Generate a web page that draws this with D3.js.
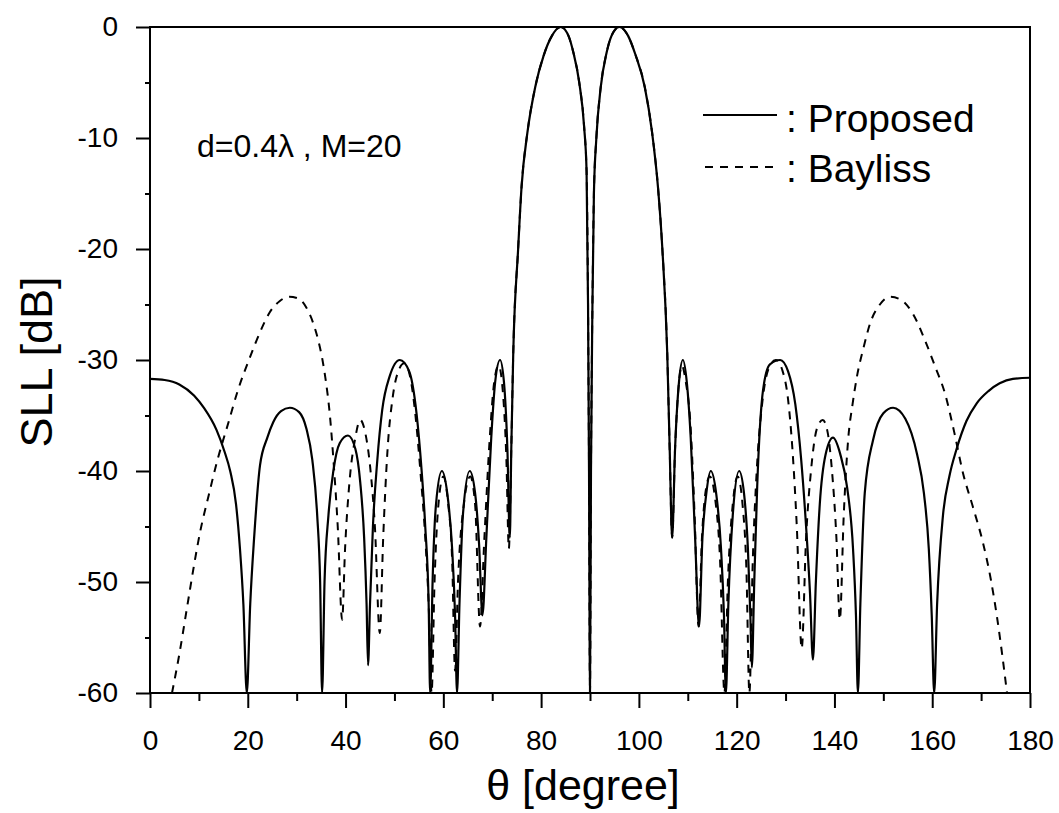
<!DOCTYPE html>
<html>
<head>
<meta charset="utf-8">
<script src="https://cdn.jsdelivr.net/npm/d3@7"></script>
<style>
  body { margin: 0; background: #fff; }
  text { font-family: "Liberation Sans", Arial, sans-serif; fill: #000; }
</style>
</head>
<body>
<div id="chart-area"></div>
<script>
// tick values
let xTicks = [0, 20, 40, 60, 80, 100, 120, 140, 160, 180];
let xMinor = [10, 30, 50, 70, 90, 110, 130, 150, 170];
let yTicks = [0, -10, -20, -30, -40, -50, -60];
let yMinor = [-5, -15, -25, -35, -45, -55];

// Proposed (solid) : [theta, SLL]
let proposed = [
  [0,-31.7],[3,-31.8],[6,-32.2],[9,-33.2],[11,-34.3],[13.6,-36.3],[15.2,-38.2],[16.4,-40],
  [17.6,-43],[18.4,-47],[19.1,-52],[19.8,-60],[20.5,-52],[21.3,-46],[22.5,-39.5],[24,-37],
  [25.2,-35.6],[26.8,-34.6],[28.6,-34.3],[30.5,-34.7],[32,-36.2],[33.2,-39],[34.2,-44],[34.8,-50],
  [35.2,-60],[35.7,-50],[36.5,-44],[37.5,-40],[38.8,-37.5],[40.5,-36.8],[42,-38],[43,-41],
  [43.8,-46],[44.3,-52],[44.6,-57.5],[45,-52],[45.6,-45],[46.5,-39],[47.5,-34.5],[49,-31.5],
  [51.1,-30],[53,-31],[54.3,-34],[55.3,-38.5],[56.3,-45],[57,-52],[57.3,-60],[57.8,-50],
  [58.5,-43],[59.7,-40],[60.8,-42],[61.8,-47],[62.4,-53],[62.8,-60],[63.3,-52],[64,-44],
  [65.4,-40],[66.5,-42],[67.3,-46.5],[68,-53],[68.8,-46],[69.8,-37],[70.6,-32],[71.6,-30],
  [72.4,-32],[73.1,-38],[73.6,-46],[73.9,-38],[74.3,-29.4],[75.3,-20],[76,-14.4],[77.2,-9.5],
  [78.8,-5.4],[80.5,-2.6],[82.2,-0.8],[84,0],[85.6,-0.8],[86.6,-2.3],[87.8,-5],[88.8,-9],
  [89.3,-13],[89.6,-25],[89.8,-40],[90,-60],[90.2,-40],[90.5,-25],[90.8,-15],[91.3,-10],
  [92.2,-5.4],[93.4,-2.3],[94.4,-0.8],[96,0],[97.8,-0.8],[99.3,-2.5],[101.2,-5.4],[102.7,-9.5],
  [103.9,-14.4],[104.8,-20],[105.8,-29.4],[106.3,-38],[106.8,-46],[107.4,-38],[108.2,-32],[109,-30],
  [109.8,-32],[110.6,-37],[111.5,-46],[112.3,-54],[113,-46],[113.8,-42],[114.7,-40],[115.8,-42],
  [116.8,-47],[117.4,-53],[117.8,-60],[118.3,-52],[119.2,-44],[120.5,-40],[121.5,-42],[122.3,-47],
  [122.8,-53],[123.1,-57.7],[123.6,-50],[124.2,-41.4],[125.4,-32.7],[126.8,-30.4],[128.9,-30],[130.5,-31],
  [132,-34],[133.2,-39],[134.2,-45],[135,-51],[135.6,-57],[136.2,-50],[137,-43],[138.2,-38.5],
  [139.7,-37],[141.2,-38.5],[142.6,-41.5],[143.8,-47],[144.4,-53],[144.8,-60],[145.3,-52],[146.2,-42],
  [147.9,-37.2],[150,-34.8],[152,-34.3],[154.5,-35.3],[156.9,-38.5],[158.3,-42],[159.3,-47],[159.9,-53],
  [160.4,-60],[161,-52],[162.2,-44],[163.5,-40.5],[165,-38],[167,-35.5],[169.1,-33.9],[171.5,-32.8],
  [173.8,-32.1],[176.5,-31.7],[180,-31.6]
];

// Bayliss (dashed) : [theta, SLL]
let bayliss = [
  [4.5,-60],[6,-56.5],[7.5,-52.5],[9,-48.5],[10.2,-45.6],[12,-42.2],[13.8,-39],[16,-35.7],
  [18,-32.7],[20.4,-29.8],[22.5,-27.5],[24.5,-25.7],[26.5,-24.7],[28.5,-24.3],[30.5,-24.5],[32,-25.3],
  [33.4,-26.7],[34.4,-28.2],[35.2,-29.8],[36,-32],[36.8,-35],[37.6,-39.5],[38.4,-45],[39.3,-53.4],
  [39.9,-47],[40.8,-41],[42,-37],[43,-35.4],[44,-36.5],[45,-39.5],[46,-45],[47,-54.6],
  [47.7,-46],[48.6,-38],[49.6,-33.5],[50.8,-31],[52,-30.3],[53.2,-31.5],[54.3,-35],[55.3,-40],
  [56.3,-46],[57,-52],[57.6,-60],[58.2,-50],[59,-43],[60,-40.5],[61,-43],[61.8,-48],
  [62.4,-58],[63,-50],[64.2,-43],[65.5,-40.5],[66.5,-43],[67.5,-54],[68.4,-46],[69.5,-37],
  [70.4,-32],[71.3,-30.5],[72.2,-33],[72.9,-39],[73.4,-47],[73.9,-38],[74.3,-29.4],[75.3,-20],
  [76,-14.4],[77.2,-9.5],[78.8,-5.4],[80.5,-2.6],[82.2,-0.8],[84,0],[85.6,-0.8],[86.6,-2.3],
  [87.8,-5],[88.8,-9],[89.3,-13],[89.6,-25],[89.8,-40],[90,-60],[90.2,-40],[90.5,-25],
  [90.8,-15],[91.3,-10],[92.2,-5.4],[93.4,-2.3],[94.4,-0.8],[96,0],[97.8,-0.8],[99.3,-2.5],
  [101.2,-5.4],[102.7,-9.5],[103.9,-14.4],[104.8,-20],[105.8,-29.4],[106.3,-38],[106.8,-46],[107.4,-38],
  [108.1,-32.5],[108.8,-30.5],[109.6,-32],[110.5,-35.5],[111.4,-44],[112.2,-54],[112.9,-46],[113.6,-42],
  [114.5,-40.5],[115.6,-42.5],[116.6,-48],[117.5,-60],[118.2,-50],[119.2,-43],[120.2,-40.5],[121.2,-43],
  [122,-49],[122.6,-60],[123.3,-48],[124.1,-40],[125.2,-34],[126.6,-30.7],[128,-30],[129.4,-31],
  [130.5,-33.5],[131.4,-38],[132.3,-45],[133.3,-56],[134.2,-46],[135.2,-40],[136.4,-36.2],[137.6,-35.4],
  [138.6,-36.5],[139.5,-40],[140.4,-46],[141.1,-53.4],[141.9,-44],[142.8,-37.2],[143.7,-34],[144.6,-31.5],
  [146,-28.8],[147.3,-26.7],[149.3,-25],[151.4,-24.3],[153.7,-24.6],[156,-25.8],[158.5,-28.2],[160.6,-30.6],
  [162.6,-33],[164.5,-36.5],[166.3,-40.2],[168.3,-43.2],[170.4,-46.5],[172,-49.8],[173.2,-53],[174.3,-56.5],
  [175.3,-60]
];

let margin = { left:150, right:29, top:27, bottom:120 };
let width = 1059 - margin.left - margin.right,
    height = 813 - margin.top - margin.bottom;

let svg = d3.select("#chart-area")
    .append("svg")
        .attr("width", 1059)
        .attr("height", 813);

let g = svg.append("g")
    .attr("transform", `translate(${margin.left}, ${margin.top})`);

let x = d3.scaleLinear().domain([0, 180]).range([0, width]);
let y = d3.scaleLinear().domain([-60, 0]).range([height, 0]);

g.append("clipPath")
    .attr("id", "clip")
  .append("rect")
    .attr("width", width)
    .attr("height", height);

// minor ticks
g.append("g")
    .attr("transform", `translate(0, ${height})`)
    .call(d3.axisBottom(x).tickValues(xMinor).tickSize(8).tickFormat(""))
    .call(s => s.select(".domain").remove())
    .selectAll("line").attr("stroke-width", 2);

g.append("g")
    .call(d3.axisLeft(y).tickValues(yMinor).tickSize(5).tickFormat(""))
    .call(s => s.select(".domain").remove())
    .selectAll("line").attr("stroke-width", 2);

// major ticks
let xAxis = g.append("g")
    .attr("transform", `translate(0, ${height})`)
    .call(d3.axisBottom(x).tickValues(xTicks).tickSize(15).tickPadding(22)
        .tickFormat(d => String(d)));
xAxis.select(".domain").remove();
xAxis.selectAll("line").attr("stroke-width", 2);
xAxis.selectAll("text")
    .attr("font-size", "28px")
    .attr("font-family", "Liberation Sans, Arial, sans-serif");

let yAxis = g.append("g")
    .call(d3.axisLeft(y).tickValues(yTicks).tickSize(14).tickPadding(18)
        .tickFormat(d => String(d)));
yAxis.select(".domain").remove();
yAxis.selectAll("line").attr("stroke-width", 2);
yAxis.selectAll("text")
    .attr("font-size", "28px")
    .attr("font-family", "Liberation Sans, Arial, sans-serif");

// frame
g.append("rect")
    .attr("width", width)
    .attr("height", height)
    .attr("fill", "none")
    .attr("stroke", "#000")
    .attr("stroke-width", 2);

let line = d3.line()
    .x(d => x(d[0]))
    .y(d => y(d[1]))
    .curve(d3.curveMonotoneX);

g.append("path")
    .datum(bayliss)
    .attr("clip-path", "url(#clip)")
    .attr("fill", "none")
    .attr("stroke", "#000")
    .attr("stroke-width", 2)
    .attr("stroke-dasharray", "8,7")
    .attr("d", line);

g.append("path")
    .datum(proposed)
    .attr("clip-path", "url(#clip)")
    .attr("fill", "none")
    .attr("stroke", "#000")
    .attr("stroke-width", 2.2)
    .attr("d", line);

// annotation
g.append("text")
    .attr("x", 47)
    .attr("y", 130)
    .attr("font-size", "32px")
    .text("d=0.4λ , M=20");

// legend
g.append("line")
    .attr("x1", 553).attr("x2", 627)
    .attr("y1", 88).attr("y2", 88)
    .attr("stroke", "#000").attr("stroke-width", 2);
g.append("text")
    .attr("x", 636)
    .attr("y", 105)
    .attr("font-size", "39px")
    .text(": Proposed");

g.append("line")
    .attr("x1", 555).attr("x2", 628)
    .attr("y1", 140).attr("y2", 140)
    .attr("stroke", "#000").attr("stroke-width", 2)
    .attr("stroke-dasharray", "8,7");
g.append("text")
    .attr("x", 636)
    .attr("y", 155)
    .attr("font-size", "39px")
    .text(": Bayliss");

// axis labels
g.append("text")
    .attr("x", width / 2 - 7)
    .attr("y", height + 107)
    .attr("font-size", "43px")
    .attr("text-anchor", "middle")
    .text("θ [degree]");

g.append("text")
    .attr("x", -(height / 2) + softShift())
    .attr("y", -98)
    .attr("font-size", "45px")
    .attr("text-anchor", "middle")
    .attr("transform", "rotate(-90)")
    .text("SLL [dB]");

function softShift() { return -2; }
</script>
</body>
</html>
